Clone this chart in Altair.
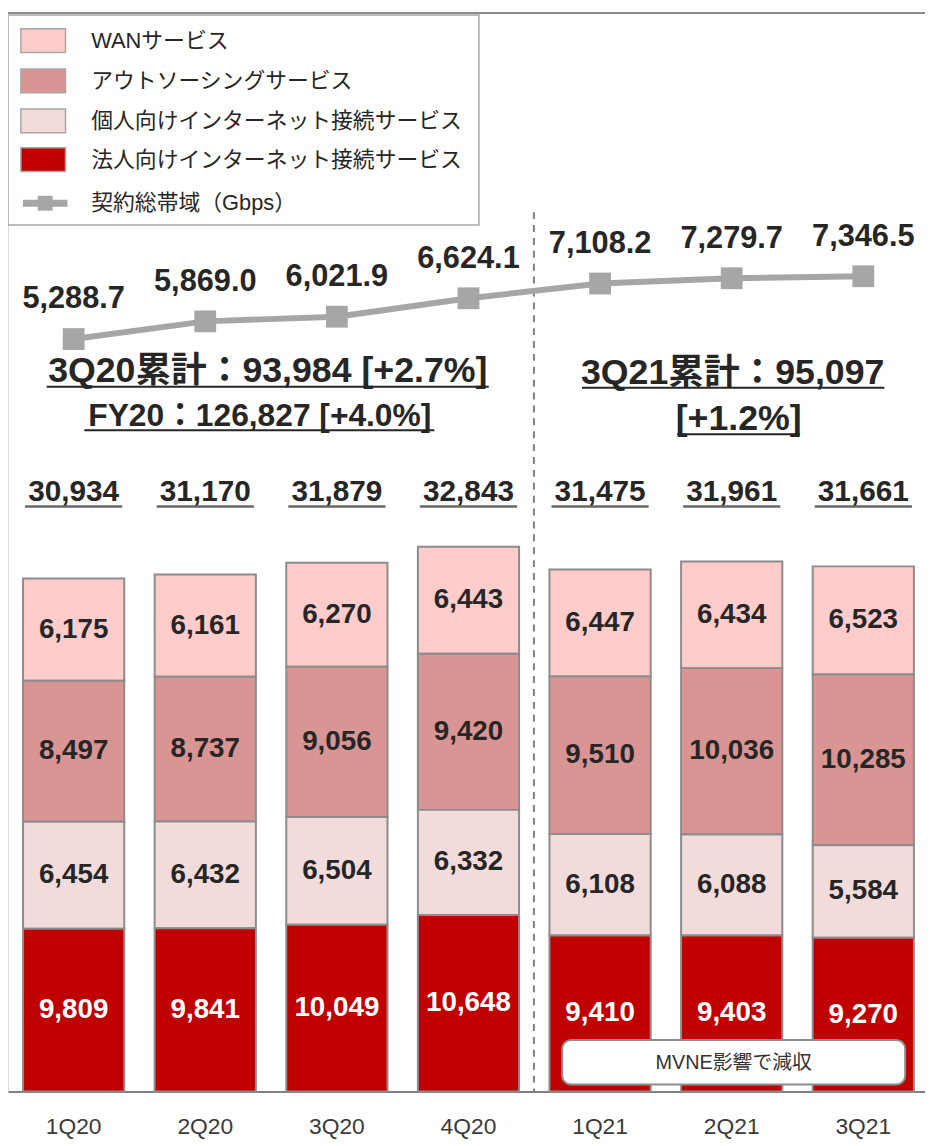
import altair as alt
import pandas as pd

quarters = ["1Q20", "2Q20", "3Q20", "4Q20", "1Q21", "2Q21", "3Q21"]
series_names = ["WANサービス", "アウトソーシングサービス", "個人向けインターネット接続サービス", "法人向けインターネット接続サービス"]
series_colors = ["#FFCCCC", "#D99594", "#F2DCDB", "#C00000"]
wan = [6175, 6161, 6270, 6443, 6447, 6434, 6523]
outsourcing = [8497, 8737, 9056, 9420, 9510, 10036, 10285]
individual = [6454, 6432, 6504, 6332, 6108, 6088, 5584]
corporate = [9809, 9841, 10049, 10648, 9410, 9403, 9270]
totals = [30934, 31170, 31879, 32843, 31475, 31961, 31661]
gbps = [5288.7, 5869.0, 6021.9, 6624.1, 7108.2, 7279.7, 7346.5]
line_name = "契約総帯域（Gbps）"
ann_3q20 = "3Q20累計：93,984 [+2.7%]"
ann_fy20 = "FY20：126,827 [+4.0%]"
ann_3q21_a = "3Q21累計：95,097"
ann_3q21_b = "[+1.2%]"
mvne_note = "MVNE影響で減収"

FONT = "'Liberation Sans', 'Noto Sans CJK JP', sans-serif"
DARK = "#262626"
W, H = 925, 1088

# stacking order: bottom = corporate
stack_order = {series_names[3]: 0, series_names[2]: 1, series_names[1]: 2, series_names[0]: 3}
rows = []
for i, q in enumerate(quarters):
    for name, vals in zip(series_names, [wan, outsourcing, individual, corporate]):
        rows.append({"quarter": q, "series": name, "value": vals[i], "order": stack_order[name],
                     "label": f"{vals[i]:,}"})
long_df = pd.DataFrame(rows)
qdf = pd.DataFrame({"quarter": quarters, "total": totals,
                    "total_label": [f"{t:,}" for t in totals],
                    "gbps": gbps, "gbps_label": [f"{g:,.1f}" for g in gbps]})

xscale = alt.Scale(domain=quarters, paddingInner=0.231, paddingOuter=0.1144, range=[0, 929])
x_enc = alt.X("quarter:N", sort=quarters, scale=xscale,
              axis=alt.Axis(title=None, labelFont="Liberation Sans", labelFontSize=23,
                            labelFontWeight=400, labelColor="#3a3a3a",
                            ticks=False, domainColor="#808080", domainWidth=2, labelPadding=24,
                            labelAngle=0, grid=False))
bar_y_scale = alt.Scale(domain=[0, 65033], nice=False, zero=True)
line_y_scale = alt.Scale(domain=[-19354, 15971], nice=False, zero=False)

base = alt.Chart(long_df)

bars = base.mark_bar(stroke="#8c8c8c", strokeWidth=2).encode(
    x=x_enc,
    y=alt.Y("value:Q", stack="zero", scale=bar_y_scale, axis=None),
    fill=alt.Fill("series:N", scale=alt.Scale(domain=series_names, range=series_colors), legend=None),
    order=alt.Order("order:Q"),
)

bar_labels = base.transform_stack(
    stack="value", groupby=["quarter"], sort=[alt.SortField("order")], as_=["v0", "v1"]
).transform_calculate(mid="(datum.v0 + datum.v1) / 2").mark_text(
    font=FONT, fontSize=28, fontWeight="bold", baseline="middle", align="center"
).encode(
    x=alt.X("quarter:N", sort=quarters, scale=xscale),
    y=alt.Y("mid:Q", scale=bar_y_scale, axis=None),
    text="label:N",
    color=alt.condition(alt.datum.series == series_names[3], alt.value("white"), alt.value(DARK)),
)

qbase = alt.Chart(qdf)
total_labels = qbase.mark_text(font=FONT, fontSize=30, fontWeight="bold", baseline="alphabetic",
                               color=DARK).encode(
    x=alt.X("quarter:N", sort=quarters, scale=xscale), y=alt.value(492), text="total_label:N")
total_under = qbase.mark_tick(orient="horizontal", size=98, thickness=2.5, color=DARK).encode(
    x=alt.X("quarter:N", sort=quarters, scale=xscale), y=alt.value(498))

line = qbase.mark_line(color="#a6a6a6", strokeWidth=6).encode(
    x=alt.X("quarter:N", sort=quarters, scale=xscale),
    y=alt.Y("gbps:Q", scale=line_y_scale, axis=None))
markers = qbase.mark_square(size=484, color="#a6a6a6", opacity=1, filled=True).encode(
    x=alt.X("quarter:N", sort=quarters, scale=xscale),
    y=alt.Y("gbps:Q", scale=line_y_scale, axis=None))
line_labels = qbase.mark_text(font=FONT, fontSize=31, fontWeight="bold", baseline="alphabetic",
                              dy=-31, color=DARK).encode(
    x=alt.X("quarter:N", sort=quarters, scale=xscale),
    y=alt.Y("gbps:Q", scale=line_y_scale, axis=None),
    text="gbps_label:N")

divider = alt.Chart(pd.DataFrame({"quarter": [quarters[3]]})).mark_rule(
    strokeDash=[7, 6], color="#808080", strokeWidth=2, xOffset=66).encode(
    x=alt.X("quarter:N", sort=quarters, scale=xscale), y=alt.value(201), y2=alt.value(H))

one = alt.Chart(pd.DataFrame({"k": [0]}))

def text_at(txt, x, y, size, bold=True, color=DARK, baseline="alphabetic", align="center"):
    return one.mark_text(text=txt, font=FONT, fontSize=size, fontWeight="bold" if bold else "normal",
                         baseline=baseline, align=align, color=color).encode(
        x=alt.value(x), y=alt.value(y))

def hline(x1, x2, y, color=DARK, width=2):
    return one.mark_rule(color=color, strokeWidth=width).encode(
        x=alt.value(x1), x2=alt.value(x2), y=alt.value(y))

annotations = [
    text_at(ann_3q20, 262, 372, 36), hline(39, 485, 377),
    text_at(ann_fy20, 254, 417, 32), hline(77, 430, 421),
    text_at(ann_3q21_a, 731, 374, 36), hline(579, 884, 378),
    text_at(ann_3q21_b, 737, 421, 36), hline(675, 799, 425),
]

mvne_box = one.mark_rect(cornerRadius=9, fill="white", stroke="#8c8c8c", strokeWidth=2).encode(
    x=alt.value(559), x2=alt.value(905), y=alt.value(1036), y2=alt.value(1081))
mvne_text = text_at(mvne_note, 732, 1059, 20, bold=False, color="#333333", baseline="middle")

# legend
legend_layers = [
    one.mark_rect(fill="white", stroke="#a6a6a6", strokeWidth=1.5).encode(
        x=alt.value(0), x2=alt.value(475), y=alt.value(2), y2=alt.value(214)),
    hline(0, W, 0, color="#8c8c8c", width=2),
]
row_centers = [28, 68.5, 109, 148]
for name, col, cy in zip(series_names, series_colors, row_centers):
    legend_layers.append(one.mark_rect(fill=col, stroke="#a6a6a6", strokeWidth=1.5).encode(
        x=alt.value(13), x2=alt.value(58), y=alt.value(cy - 12), y2=alt.value(cy + 12)))
    legend_layers.append(text_at(name, 84, cy, 22, bold=False, color=DARK, baseline="middle", align="left"))
legend_layers.append(hline(15, 60, 192, color="#a6a6a6", width=7))
legend_layers.append(one.mark_square(size=225, color="#a6a6a6", opacity=1, filled=True).encode(
    x=alt.value(37.5), y=alt.value(192)))
legend_layers.append(text_at(line_name, 84, 192, 22, bold=False, color=DARK, baseline="middle", align="left"))

chart = alt.layer(
    bars, bar_labels, total_labels, total_under, divider, line, markers, line_labels,
    *annotations, mvne_box, mvne_text, *legend_layers
).resolve_scale(y="independent").properties(
    width=W, height=H,
    autosize=alt.AutoSizeParams(type="none"),
    padding={"left": 0, "right": 0, "top": 0, "bottom": 46},
).configure_view(stroke=None).configure(font=FONT)

chart.save("out.html", embed_options={"renderer": "svg", "actions": False})
